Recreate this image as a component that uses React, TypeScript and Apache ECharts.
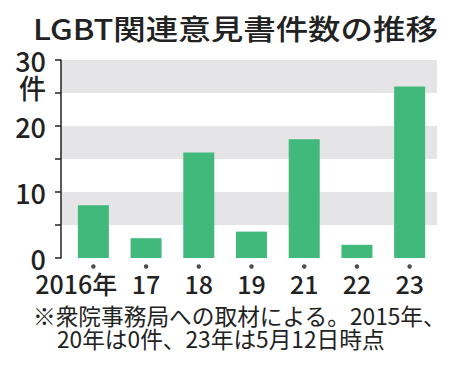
import React, { useEffect, useRef } from "react";
import * as echarts from "echarts";

const categories = ["2016年", "17", "18", "19", "21", "22", "23"];
const counts = [8, 3, 16, 4, 18, 2, 26];
const yMin = 0;
const yMax = 30;
const yInterval = 5;
const titleText = "LGBT関連意見書件数の推移";
const unitText = "件";
const noteLine1 = "※衆院事務局への取材による。2015年、";
const noteLine2 = "20年は0件、23年は5月12日時点";

const FONT = '"Noto Sans CJK JP", "Noto Sans", sans-serif';
const INK = "#222222";
const BAR = "#41b97a";
const BAND = "#e5e5e7";

export default function App() {
  const ref = useRef<HTMLDivElement>(null);
  useEffect(() => {
    if (!ref.current) return;
    const chart = echarts.init(ref.current, null, { renderer: "svg" });
    const option: any = {
      animation: false,
      backgroundColor: "#ffffff",
      grid: [
        { left: 61, top: 60, width: 376, height: 198 },
        { left: 67, top: 60, width: 369, height: 198 },
        { left: 67, top: 262, width: 369, height: 9 },
      ],
      xAxis: [
        { type: "value", gridIndex: 0, min: 0, max: 1, show: false },
        {
          type: "category",
          gridIndex: 1,
          data: categories,
          axisLine: { show: false },
          axisTick: { show: false },
          axisLabel: {
            interval: 0,
            margin: 12,
            formatter: (v: string, i: number) =>
              i === 0 ? "{first|" + v + "}" : "{t|" + v + "}",
            rich: {
              t: { fontSize: 25, lineHeight: 26, color: INK, fontFamily: FONT, fontWeight: 500 },
              first: {
                fontSize: 25,
                lineHeight: 26,
                color: INK,
                fontFamily: FONT,
                fontWeight: 500,
                padding: [0, 34, 0, 0],
              },
            },
          },
        },
        { type: "category", gridIndex: 2, data: categories, show: false },
      ],
      yAxis: [
        {
          type: "value",
          gridIndex: 0,
          min: yMin,
          max: yMax,
          interval: yInterval,
          axisLine: { show: true, lineStyle: { color: INK, width: 1.5 } },
          axisTick: { show: true, length: 6, lineStyle: { color: INK, width: 1.5 } },
          axisLabel: {
            margin: 15,
            fontSize: 27,
            lineHeight: 24,
            color: INK,
            fontFamily: FONT,
            fontWeight: 500,
            formatter: (v: number) => (v % 10 === 0 ? String(v) : ""),
          },
          splitLine: { show: false },
          splitArea: { show: true, areaStyle: { color: ["rgba(0,0,0,0)", BAND] } },
        },
        {
          type: "value",
          gridIndex: 1,
          min: yMin,
          max: yMax,
          interval: yInterval,
          show: false,
          splitLine: { show: false },
        },
        { type: "value", gridIndex: 2, min: -1, max: 1, show: false },
      ],
      series: [
        {
          type: "bar",
          xAxisIndex: 1,
          yAxisIndex: 1,
          data: counts,
          barWidth: 31,
          itemStyle: { color: BAR },
        },
        {
          type: "scatter",
          xAxisIndex: 2,
          yAxisIndex: 2,
          data: categories.map(() => 0),
          symbol: "circle",
          symbolSize: 4.5,
          itemStyle: { color: INK },
          silent: true,
        },
      ],
      graphic: [
        {
          type: "text",
          x: 33,
          y: 13,
          scaleX: 1.12,
          style: {
            text: titleText,
            font: `500 29px ${FONT}`,
            fill: INK,
            textVerticalAlign: "top",
          },
        },
        {
          type: "text",
          x: 46,
          y: 87,
          style: {
            text: unitText,
            font: `500 27px ${FONT}`,
            lineHeight: 24,
            fill: INK,
            textAlign: "right",
            textVerticalAlign: "middle",
          },
        },
        {
          type: "text",
          left: 33,
          top: 304,
          style: { text: noteLine1, font: `22.7px ${FONT}`, lineHeight: 22, fill: INK },
        },
        {
          type: "text",
          left: 57,
          top: 327,
          style: { text: noteLine2, font: `22.7px ${FONT}`, lineHeight: 22, fill: INK },
        },
      ],
    };
    chart.setOption(option);
    return () => chart.dispose();
  }, []);
  return (
    <div
      ref={ref}
      style={{ position: "fixed", left: 0, top: 0, width: 450, height: 365, background: "#fff" }}
    />
  );
}
